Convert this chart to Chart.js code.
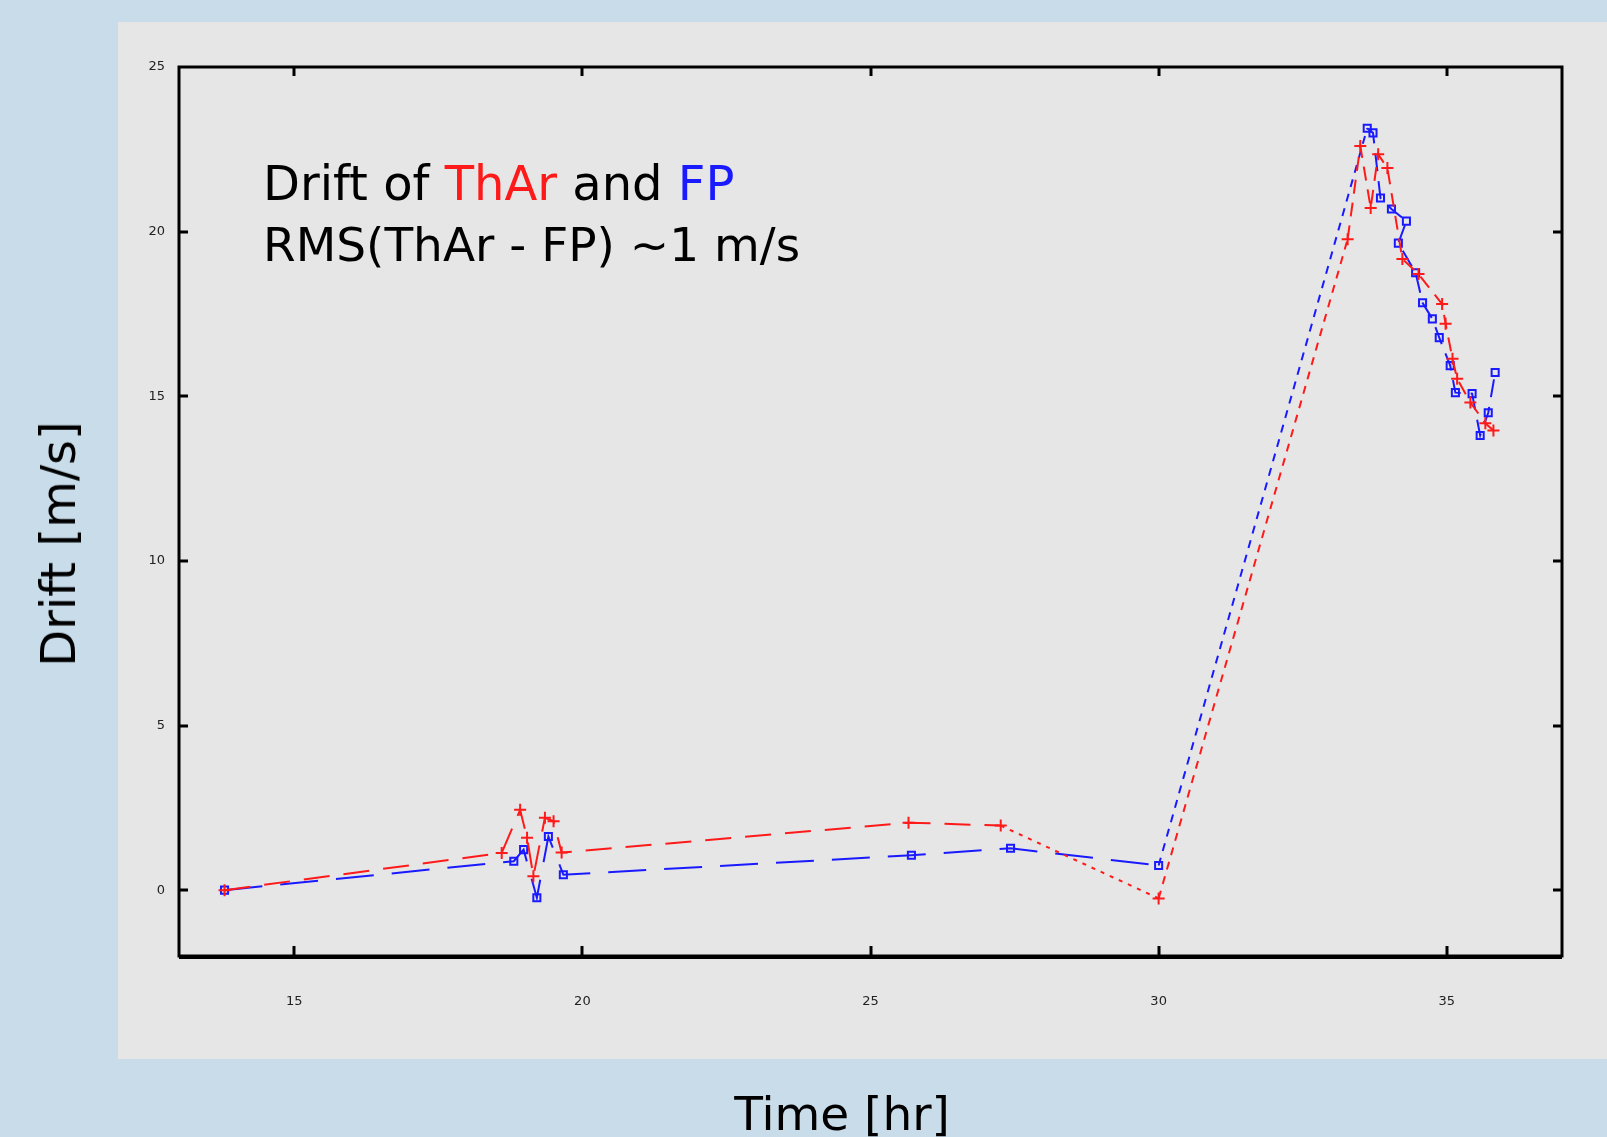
<!DOCTYPE html>
<html>
<head>
<meta charset="utf-8">
<script src="https://cdn.jsdelivr.net/npm/chart.js@4.4.1/dist/chart.umd.min.js"></script>
<style>
  html, body { margin:0; padding:0; width:1607px; height:1137px; overflow:hidden; background:#c9dcea; }
  #wrap { position:absolute; left:0; top:0; width:1607px; height:1137px; }
  canvas { position:absolute; left:0; top:0; }
  .txt { position:absolute; font-family:"DejaVu Sans", Verdana, sans-serif; font-size:47px; color:#000; white-space:nowrap; line-height:1; }
</style>
</head>
<body>
<div id="wrap">
  <canvas id="c" width="1607" height="1137"></canvas>
  <div class="txt" style="left:263px; top:159px; font-size:48px;">Drift of <span style="color:#ff1a1a">ThAr</span> and <span style="color:#1a1aff">FP</span></div>
  <div class="txt" style="left:263px; top:221px;">RMS(ThAr - FP) ~1 m/s</div>
  <div class="txt" style="left:58px; top:544px; font-size:48px; transform:translate(-50%,-50%) rotate(-90deg);">Drift [m/s]</div>
  <div class="txt" style="left:842px; top:1090px; transform:translateX(-50%);">Time [hr]</div>
</div>
<script>
// ---- data ----
const tharX = [13.79, 18.60, 18.92, 19.04, 19.15, 19.35, 19.50, 19.64, 25.66, 27.26, 30.00, 33.28, 33.50, 33.68, 33.81, 33.97, 34.23, 34.51, 34.92, 34.98, 35.10, 35.18, 35.41, 35.67, 35.81];
const tharY = [0.00, 1.13, 2.44, 1.59, 0.42, 2.20, 2.09, 1.14, 2.05, 1.96, -0.25, 19.77, 22.60, 20.72, 22.35, 21.93, 19.17, 18.71, 17.80, 17.20, 16.14, 15.53, 14.81, 14.18, 13.96];

const fpX = [13.79, 18.81, 18.98, 19.21, 19.41, 19.67, 25.71, 27.43, 30.00, 33.62, 33.72, 33.85, 34.04, 34.30, 34.16, 34.46, 34.58, 34.75, 34.87, 35.06, 35.15, 35.44, 35.58, 35.72, 35.84];
const fpY = [0.00, 0.88, 1.23, -0.23, 1.63, 0.47, 1.06, 1.27, 0.75, 23.14, 23.00, 21.02, 20.69, 20.32, 19.65, 18.75, 17.84, 17.35, 16.78, 15.93, 15.11, 15.08, 13.81, 14.50, 15.72];

const xTicks = [15, 20, 25, 30, 35];
const yTicks = [0, 5, 10, 15, 20, 25];
const xMin = 13, xMax = 37, yMin = -2, yMax = 25;

const toPts = (xs, ys) => xs.map((x, i) => ({ x: x, y: ys[i] }));

const framePlugin = {
  id: 'frame',
  beforeDraw(chart) {
    const ctx = chart.ctx;
    ctx.save();
    ctx.fillStyle = '#c9dcea';
    ctx.fillRect(0, 0, chart.width, chart.height);
    ctx.fillStyle = '#e6e6e6';
    ctx.fillRect(118, 22, 1489, 1037);
    ctx.restore();
  },
  afterDatasetsDraw(chart) {
    const ctx = chart.ctx;
    const a = chart.chartArea;
    const xs = chart.scales.x, ys = chart.scales.y;
    ctx.save();
    ctx.strokeStyle = '#000';
    ctx.lineWidth = 3;
    ctx.strokeRect(a.left, a.top, a.right - a.left, a.bottom - a.top);
    ctx.lineWidth = 2;
    ctx.beginPath();
    ctx.moveTo(a.left, a.bottom + 2); ctx.lineTo(a.right, a.bottom + 2);
    ctx.stroke();
    ctx.lineWidth = 3;
    xTicks.forEach(v => {
      const p = Math.round(xs.getPixelForValue(v));
      ctx.beginPath(); ctx.moveTo(p, a.bottom); ctx.lineTo(p, a.bottom - 10); ctx.stroke();
      ctx.beginPath(); ctx.moveTo(p, a.top); ctx.lineTo(p, a.top + 9); ctx.stroke();
    });
    yTicks.forEach(v => {
      const p = Math.round(ys.getPixelForValue(v));
      if (v === yMax) return;
      ctx.beginPath(); ctx.moveTo(a.left, p); ctx.lineTo(a.left + 9, p); ctx.stroke();
      ctx.beginPath(); ctx.moveTo(a.right, p); ctx.lineTo(a.right - 9, p); ctx.stroke();
    });
    ctx.restore();
  }
};

new Chart(document.getElementById('c'), {
  type: 'line',
  data: {
    datasets: [
      {
        label: 'ThAr',
        data: toPts(tharX, tharY),
        borderColor: '#ff1a1a',
        borderWidth: 2,
        borderDash: [14, 9],
        pointStyle: 'cross',
        pointRadius: 6,
        pointBorderColor: '#ff1a1a',
        pointBorderWidth: 2,
        fill: false,
        tension: 0,
        segment: {
          borderDash: ctx => {
            const x = ctx.p0.parsed.x;
            if (x >= 27 && x < 29.9) return [4, 6];
            if (x >= 29.9 && x < 31) return [8, 7];
            if (x < 27) return [26, 14];
            return [14, 9];
          }
        }
      },
      {
        label: 'FP',
        data: toPts(fpX, fpY),
        borderColor: '#1a1aff',
        borderWidth: 2,
        borderDash: [22, 12],
        pointStyle: 'rect',
        pointRadius: 5,
        pointBorderColor: '#1a1aff',
        pointBackgroundColor: 'rgba(0,0,0,0)',
        pointBorderWidth: 2,
        fill: false,
        tension: 0,
        segment: {
          borderDash: ctx => {
            const x = ctx.p0.parsed.x;
            if (x >= 29.9 && x < 31) return [8, 7];
            if (x < 29.9) return [38, 18];
            return [18, 10];
          }
        }
      }
    ]
  },
  options: {
    responsive: false,
    devicePixelRatio: 1,
    animation: false,
    layout: { padding: { left: 0, top: 67, right: 45, bottom: 0 } },
    plugins: { legend: { display: false }, tooltip: { enabled: false }, title: { display: false } },
    scales: {
      x: {
        type: 'linear',
        min: xMin, max: xMax,
        grid: { display: false, drawTicks: false },
        border: { display: false },
        afterBuildTicks: s => { s.ticks = xTicks.map(v => ({ value: v })); },
        afterFit: s => { s.height = 181; },
        ticks: { color: '#222', font: { family: 'DejaVu Sans', size: 13 }, padding: 38, maxRotation: 0, autoSkip: false }
      },
      y: {
        type: 'linear',
        min: yMin, max: yMax,
        grid: { display: false, drawTicks: false },
        border: { display: false },
        afterBuildTicks: s => { s.ticks = yTicks.map(v => ({ value: v })); },
        afterFit: s => { s.width = 179; },
        ticks: { color: '#222', font: { family: 'DejaVu Sans', size: 13 }, padding: 14, autoSkip: false }
      }
    }
  },
  plugins: [framePlugin]
});
</script>
</body>
</html>
